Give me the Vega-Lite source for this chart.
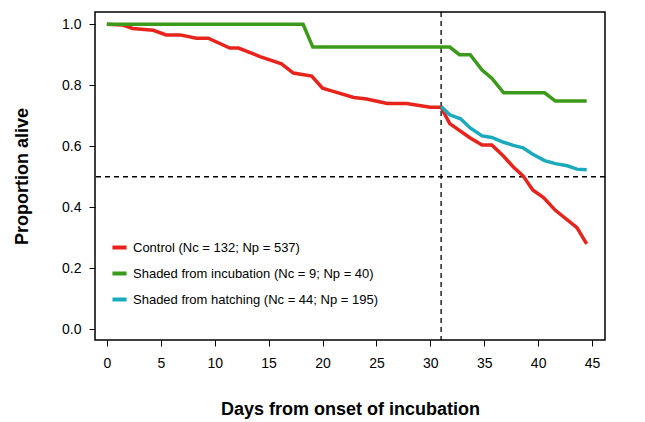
{
  "$schema": "https://vega.github.io/schema/vega-lite/v6.json",
  "width": 510,
  "height": 328,
  "autosize": "none",
  "padding": {"left": 95, "top": 12, "right": 40, "bottom": 82},
  "config": {
    "font": "Liberation Sans",
    "view": {"stroke": "black", "strokeWidth": 1.5},
    "axis": {"grid": false, "domain": false, "tickColor": "black", "labelColor": "black", "labelFontSize": 14, "titleFontSize": 18, "titleFontWeight": "bold", "titleColor": "black", "tickSize": 6}
  },
  "datasets": {
    "surv": [
      {"g": "Control (Nc = 132; Np = 537)", "d": 0, "p": 1.0},
      {"g": "Control (Nc = 132; Np = 537)", "d": 1.5, "p": 0.997},
      {"g": "Control (Nc = 132; Np = 537)", "d": 2.4, "p": 0.986},
      {"g": "Control (Nc = 132; Np = 537)", "d": 4.3, "p": 0.98},
      {"g": "Control (Nc = 132; Np = 537)", "d": 5.5, "p": 0.965},
      {"g": "Control (Nc = 132; Np = 537)", "d": 6.8, "p": 0.965},
      {"g": "Control (Nc = 132; Np = 537)", "d": 8.3, "p": 0.954},
      {"g": "Control (Nc = 132; Np = 537)", "d": 9.4, "p": 0.954},
      {"g": "Control (Nc = 132; Np = 537)", "d": 11.4, "p": 0.922},
      {"g": "Control (Nc = 132; Np = 537)", "d": 12.2, "p": 0.922},
      {"g": "Control (Nc = 132; Np = 537)", "d": 14.2, "p": 0.894},
      {"g": "Control (Nc = 132; Np = 537)", "d": 16.2, "p": 0.87},
      {"g": "Control (Nc = 132; Np = 537)", "d": 17.3, "p": 0.84},
      {"g": "Control (Nc = 132; Np = 537)", "d": 19, "p": 0.83},
      {"g": "Control (Nc = 132; Np = 537)", "d": 20, "p": 0.79},
      {"g": "Control (Nc = 132; Np = 537)", "d": 21, "p": 0.78},
      {"g": "Control (Nc = 132; Np = 537)", "d": 22.9, "p": 0.76},
      {"g": "Control (Nc = 132; Np = 537)", "d": 24.1, "p": 0.755},
      {"g": "Control (Nc = 132; Np = 537)", "d": 26, "p": 0.74},
      {"g": "Control (Nc = 132; Np = 537)", "d": 27.8, "p": 0.74},
      {"g": "Control (Nc = 132; Np = 537)", "d": 30, "p": 0.728},
      {"g": "Control (Nc = 132; Np = 537)", "d": 31, "p": 0.728},
      {"g": "Control (Nc = 132; Np = 537)", "d": 31.8, "p": 0.674},
      {"g": "Control (Nc = 132; Np = 537)", "d": 33.7, "p": 0.627},
      {"g": "Control (Nc = 132; Np = 537)", "d": 34.8, "p": 0.604},
      {"g": "Control (Nc = 132; Np = 537)", "d": 35.7, "p": 0.604},
      {"g": "Control (Nc = 132; Np = 537)", "d": 36.8, "p": 0.567},
      {"g": "Control (Nc = 132; Np = 537)", "d": 37.7, "p": 0.532},
      {"g": "Control (Nc = 132; Np = 537)", "d": 38.6, "p": 0.503},
      {"g": "Control (Nc = 132; Np = 537)", "d": 39.5, "p": 0.457},
      {"g": "Control (Nc = 132; Np = 537)", "d": 40.5, "p": 0.432},
      {"g": "Control (Nc = 132; Np = 537)", "d": 41.6, "p": 0.39},
      {"g": "Control (Nc = 132; Np = 537)", "d": 43.6, "p": 0.333},
      {"g": "Control (Nc = 132; Np = 537)", "d": 44.5, "p": 0.28},
      {"g": "Shaded from incubation (Nc = 9; Np = 40)", "d": 0, "p": 1.0},
      {"g": "Shaded from incubation (Nc = 9; Np = 40)", "d": 18.2, "p": 1.0},
      {"g": "Shaded from incubation (Nc = 9; Np = 40)", "d": 19.1, "p": 0.925},
      {"g": "Shaded from incubation (Nc = 9; Np = 40)", "d": 31.8, "p": 0.925},
      {"g": "Shaded from incubation (Nc = 9; Np = 40)", "d": 32.7, "p": 0.9},
      {"g": "Shaded from incubation (Nc = 9; Np = 40)", "d": 33.7, "p": 0.9},
      {"g": "Shaded from incubation (Nc = 9; Np = 40)", "d": 34.8, "p": 0.85},
      {"g": "Shaded from incubation (Nc = 9; Np = 40)", "d": 35.7, "p": 0.823},
      {"g": "Shaded from incubation (Nc = 9; Np = 40)", "d": 36.8, "p": 0.775},
      {"g": "Shaded from incubation (Nc = 9; Np = 40)", "d": 40.6, "p": 0.775},
      {"g": "Shaded from incubation (Nc = 9; Np = 40)", "d": 41.6, "p": 0.748},
      {"g": "Shaded from incubation (Nc = 9; Np = 40)", "d": 44.5, "p": 0.748},
      {"g": "Shaded from hatching (Nc = 44; Np = 195)", "d": 31, "p": 0.73},
      {"g": "Shaded from hatching (Nc = 44; Np = 195)", "d": 31.8, "p": 0.703},
      {"g": "Shaded from hatching (Nc = 44; Np = 195)", "d": 32.8, "p": 0.69},
      {"g": "Shaded from hatching (Nc = 44; Np = 195)", "d": 33.7, "p": 0.66},
      {"g": "Shaded from hatching (Nc = 44; Np = 195)", "d": 34.8, "p": 0.634},
      {"g": "Shaded from hatching (Nc = 44; Np = 195)", "d": 35.7, "p": 0.629},
      {"g": "Shaded from hatching (Nc = 44; Np = 195)", "d": 36.8, "p": 0.613},
      {"g": "Shaded from hatching (Nc = 44; Np = 195)", "d": 37.7, "p": 0.603},
      {"g": "Shaded from hatching (Nc = 44; Np = 195)", "d": 38.6, "p": 0.595},
      {"g": "Shaded from hatching (Nc = 44; Np = 195)", "d": 39.5, "p": 0.574},
      {"g": "Shaded from hatching (Nc = 44; Np = 195)", "d": 40.6, "p": 0.553},
      {"g": "Shaded from hatching (Nc = 44; Np = 195)", "d": 41.6, "p": 0.543},
      {"g": "Shaded from hatching (Nc = 44; Np = 195)", "d": 42.7, "p": 0.536},
      {"g": "Shaded from hatching (Nc = 44; Np = 195)", "d": 43.6, "p": 0.525},
      {"g": "Shaded from hatching (Nc = 44; Np = 195)", "d": 44.5, "p": 0.523}
    ]
  },
  "layer": [
    {
      "data": {"values": [{"v": 31}]},
      "mark": {"type": "rule", "strokeDash": [5, 4], "color": "black", "strokeWidth": 1.3},
      "encoding": {"x": {"field": "v", "type": "quantitative"}}
    },
    {
      "data": {"values": [{"v": 0.5}]},
      "mark": {"type": "rule", "strokeDash": [5, 4], "color": "black", "strokeWidth": 1.3},
      "encoding": {"y": {"field": "v", "type": "quantitative"}}
    },
    {
      "data": {"name": "surv"},
      "mark": {"type": "line", "strokeWidth": 3.5},
      "encoding": {
        "x": {
          "field": "d", "type": "quantitative",
          "title": "Days from onset of incubation",
          "scale": {"domain": [-1.1, 46.2], "nice": false, "zero": false},
          "axis": {"values": [0, 5, 10, 15, 20, 25, 30, 35, 40, 45], "labelPadding": 10, "titlePadding": 30}
        },
        "y": {
          "field": "p", "type": "quantitative",
          "title": "Proportion alive",
          "scale": {"domain": [-0.035, 1.04], "nice": false, "zero": false},
          "axis": {"values": [0, 0.2, 0.4, 0.6, 0.8, 1.0], "format": ".1f", "labelPadding": 8, "titlePadding": 30}
        },
        "color": {
          "field": "g", "type": "nominal",
          "scale": {
            "domain": ["Control (Nc = 132; Np = 537)", "Shaded from incubation (Nc = 9; Np = 40)", "Shaded from hatching (Nc = 44; Np = 195)"],
            "range": ["#e8231c", "#3c9a1a", "#1aaabb"]
          },
          "legend": {
            "title": null, "orient": "none", "legendX": 15, "legendY": 226,
            "symbolType": "stroke", "symbolStrokeWidth": 4, "symbolSize": 200,
            "labelFontSize": 13, "labelColor": "black", "rowPadding": 8, "labelLimit": 400
          }
        }
      }
    }
  ]
}
